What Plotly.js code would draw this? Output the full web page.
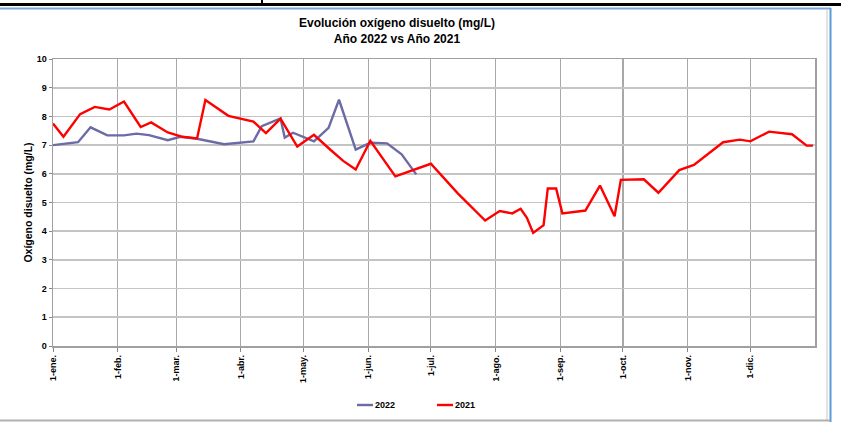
<!DOCTYPE html>
<html>
<head>
<meta charset="utf-8">
<script src="https://cdn.plot.ly/plotly-3.0.1.min.js"></script>
<style>
  html, body { margin: 0; padding: 0; background: #ffffff; }
  #chart { width: 841px; height: 422px; }
</style>
</head>
<body>
<div id="chart"></div>
<script>
// ---- Data (month-day of each sample, dissolved oxygen mg/L) ----
const monthDay2022 = ['01-01','01-13','01-19','01-27','02-04','02-10','02-16','02-25','03-03','03-11',
  '03-24','04-07','04-11','04-20','04-22','04-26','05-06','05-13','05-18','05-26','06-02','06-10','06-17','06-24'];
const oxygen2022 = [7.00,7.10,7.62,7.34,7.34,7.40,7.35,7.17,7.29,7.22,
  7.03,7.13,7.66,7.93,7.26,7.43,7.13,7.60,8.58,6.84,7.08,7.06,6.68,5.98];

const monthDay2021 = ['01-01','01-06','01-14','01-21','01-28','02-04','02-12','02-17','02-25','03-04',
  '03-11','03-15','03-26','04-07','04-13','04-20','04-28','05-06','05-14','05-20','05-26','06-02','06-14',
  '07-01','07-14','07-27','08-03','08-09','08-13','08-16','08-19','08-24','08-26','08-30','09-02','09-13',
  '09-20','09-27','09-30','10-11','10-18','10-28','11-04','11-18','11-26','12-01','12-10','12-21','12-28','12-31'];
const oxygen2021 = [7.75,7.29,8.08,8.33,8.24,8.52,7.63,7.79,7.44,7.29,
  7.23,8.57,8.02,7.82,7.42,7.92,6.95,7.36,6.83,6.45,6.15,7.15,5.91,
  6.35,5.31,4.37,4.70,4.62,4.78,4.47,3.94,4.21,5.49,5.49,4.62,4.72,
  5.59,4.52,5.79,5.81,5.34,6.13,6.31,7.10,7.19,7.13,7.47,7.38,6.98,6.98];

const tickMonthDays = ['01-01','02-01','03-01','04-01','05-01','06-01','07-01','08-01','09-01','10-01','11-01','12-01'];
const tickLabels = ['1-ene.','1-feb.','1-mar.','1-abr.','1-may.','1-jun.','1-jul.','1-ago.','1-sep.','1-oct.','1-nov.','1-dic.'];
const seriesNames = ['2022','2021'];
const seriesColors = ['#6b6ba6','#ff0000'];

// ---- Build (both years share one Jan–Dec axis) ----
const AXIS_YEAR = '2021';
const toDate = md => AXIS_YEAR + '-' + md;

const W = 841, H = 422;
const M = {l: 53, r: 26, t: 59, b: 76};
const PW = W - M.l - M.r, PH = H - M.t - M.b;
const px = x => (x - M.l) / PW;
const py = y => (H - M.b - y) / PH;

const font = 'Liberation Sans, Arial, sans-serif';

const traces = [
  {x: monthDay2022.map(toDate), y: oxygen2022, name: seriesNames[0], type: 'scatter', mode: 'lines',
   line: {color: seriesColors[0], width: 2.4}},
  {x: monthDay2021.map(toDate), y: oxygen2021, name: seriesNames[1], type: 'scatter', mode: 'lines',
   line: {color: seriesColors[1], width: 2.4}}
];

const frameShapes = [
  {type: 'line', xref: 'paper', yref: 'paper', x0: px(0), x1: px(841), y0: py(4.5), y1: py(4.5), line: {color: '#000000', width: 3}},
  {type: 'line', xref: 'paper', yref: 'paper', x0: px(262), x1: px(262), y0: py(0), y1: py(5), line: {color: '#000000', width: 2}},
  {type: 'line', xref: 'paper', yref: 'paper', x0: px(0), x1: px(831), y0: py(8.5), y1: py(8.5), line: {color: '#7aa7d8', width: 2}},
  {type: 'line', xref: 'paper', yref: 'paper', x0: px(830.5), x1: px(830.5), y0: py(8), y1: py(422), line: {color: '#5b9bd5', width: 2}},
  {type: 'line', xref: 'paper', yref: 'paper', x0: px(827), x1: px(827), y0: py(10), y1: py(420), line: {color: '#c8c8c8', width: 1}},
  {type: 'line', xref: 'paper', yref: 'paper', x0: px(0), x1: px(830), y0: py(420.5), y1: py(420.5), line: {color: '#b0b0b0', width: 2}}
];

// legend (drawn as short line samples + labels, like the original)
const legendX = [357, 437], legendY = 405, sampleLen = 16;
const legendShapes = seriesNames.map((n, i) => ({
  type: 'line', xref: 'paper', yref: 'paper',
  x0: px(legendX[i]), x1: px(legendX[i] + sampleLen), y0: py(legendY), y1: py(legendY),
  line: {color: seriesColors[i], width: 2.4}
}));
const legendLabels = seriesNames.map((n, i) => ({
  text: n, xref: 'paper', yref: 'paper', showarrow: false,
  x: px(legendX[i] + sampleLen), xanchor: 'left', y: py(legendY), yanchor: 'middle',
  font: {family: font, size: 9, weight: 'bold', color: '#000000'}
}));

const layout = {
  width: W, height: H,
  margin: M,
  paper_bgcolor: '#ffffff', plot_bgcolor: '#ffffff',
  font: {family: font, size: 9, color: '#000000'},
  title: {
    text: 'Evolución oxígeno disuelto (mg/L)<br>Año 2022 vs Año 2021',
    font: {family: font, size: 12, weight: 'bold', color: '#000000'},
    x: 397 / W, xref: 'container', xanchor: 'center',
    y: 1 - 27 / H, yref: 'container', yanchor: 'top'
  },
  xaxis: {
    type: 'date',
    range: [toDate('01-01'), '2022-01-01'],
    tickmode: 'array',
    tickvals: tickMonthDays.map(toDate),
    ticktext: tickLabels,
    tickangle: -90,
    tickfont: {family: font, size: 9, weight: 'bold'},
    ticks: 'outside', ticklen: 4, tickcolor: '#888888',
    showgrid: true, gridcolor: '#a8a8a8', gridwidth: 1.2,
    showline: true, linecolor: '#a0a0a0', linewidth: 1.5, mirror: true,
    zeroline: false, fixedrange: true, automargin: false
  },
  yaxis: {
    range: [0, 10],
    tickmode: 'linear', tick0: 0, dtick: 1,
    tickfont: {family: font, size: 9, weight: 'bold'},
    ticks: 'outside', ticklen: 3, tickcolor: '#888888',
    showgrid: true, gridcolor: '#c4c4c4', gridwidth: 1.6,
    showline: true, linecolor: '#a0a0a0', linewidth: 1.5, mirror: true,
    zeroline: false, automargin: false,
    title: {text: 'Oxígeno disuelto (mg/L)', font: {family: font, size: 10.5, weight: 'bold'}, standoff: 2},
    fixedrange: true
  },
  showlegend: false,
  shapes: frameShapes.concat(legendShapes),
  annotations: legendLabels
};

Plotly.newPlot('chart', traces, layout, {staticPlot: true, displayModeBar: false});
</script>
</body>
</html>
